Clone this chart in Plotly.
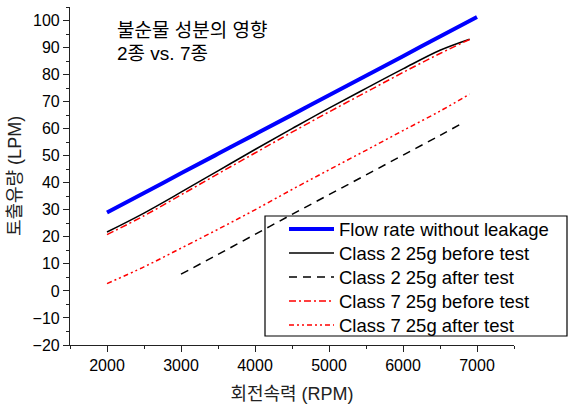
import plotly.graph_objects as go

# ---- data ----
rpm_full = [2000, 2500, 3000, 3500, 4000, 4500, 5000, 5500, 6000, 6500, 7000]
flow_ideal = [29.0, 36.2, 43.5, 50.7, 57.9, 65.1, 72.4, 79.6, 86.8, 94.1, 101.3]

rpm_c2_before = [2000, 2500, 3000, 3500, 4000, 4500, 5000, 5500, 6000, 6500, 6900]
c2_before = [21.8, 28.8, 36.5, 44.4, 52.3, 60.0, 67.6, 74.9, 82.1, 89.0, 93.1]

rpm_c2_after = [3000, 3500, 4000, 4500, 5000, 5500, 6000, 6500, 6800]
c2_after = [6.2, 13.5, 20.9, 28.3, 35.6, 42.9, 50.2, 57.5, 62.0]

rpm_c7_before = [2000, 2500, 3000, 3500, 4000, 4500, 5000, 5500, 6000, 6500, 6900]
c7_before = [20.8, 27.8, 35.5, 43.3, 51.0, 58.7, 66.2, 73.5, 80.8, 87.8, 93.0]

rpm_c7_after = [2000, 2500, 3000, 3500, 4000, 4500, 5000, 5500, 6000, 6500, 6900]
c7_after = [2.7, 8.9, 15.8, 22.8, 30.0, 37.5, 44.8, 52.0, 59.3, 66.5, 72.8]

names = ["Flow rate without leakage", "Class 2 25g before test", "Class 2 25g after test",
         "Class 7 25g before test", "Class 7 25g after test"]

x_ticks = [2000, 3000, 4000, 5000, 6000, 7000]
y_ticks = [-20, -10, 0, 10, 20, 30, 40, 50, 60, 70, 80, 90, 100]

annot_lines = ["불순물 성분의 영향", "2종 vs. 7종"]
x_title = "회전속력 (RPM)"
y_title = "토출유량 (LPM)"

FONT = "Liberation Sans, Arial, Noto Sans CJK KR, sans-serif"

W, H = 568, 409
L, R, T, B = 70, 54, 7, 64
PW, PH = W - L - R, H - T - B


def px2paper(px, py):
    return (px - L) / PW, (H - B - py) / PH


def px2cont(px, py):
    return px / W, 1 - py / H


fig = go.Figure()
series = [
    (rpm_full, flow_ideal, dict(color="#0000FF", width=4)),
    (rpm_c2_before, c2_before, dict(color="black", width=1.5)),
    (rpm_c2_after, c2_after, dict(color="black", width=1.5, dash="8px,6px")),
    (rpm_c7_before, c7_before, dict(color="#FF0000", width=1.5, dash="7px,3px,2px,3px")),
    (rpm_c7_after, c7_after, dict(color="#FF0000", width=1.5, dash="5px,3px,2px,3px,2px,3px")),
]
legend_keys = ["legend", "legend2", "legend3", "legend4", "legend5"]
for (xs, ys, line), nm, lk in zip(series, names, legend_keys):
    fig.add_trace(go.Scatter(x=xs, y=ys, mode="lines", line=line, name=nm,
                             legend=lk, line_shape="spline"))

row_y = [229.5, 253.5, 277.5, 301.5, 325.5]
legend_layouts = {}
for lk, ry in zip(legend_keys, row_y):
    lx, ly = px2cont(284, ry)
    legend_layouts[lk] = dict(x=lx, y=ly, xref="container", yref="container",
                              xanchor="left", yanchor="middle",
                              bgcolor="rgba(0,0,0,0)", borderwidth=0,
                              font=dict(family=FONT, size=18.5, color="black"),
                              itemwidth=45)

bx0, by0 = px2paper(265, 216)
bx1, by1 = px2paper(567, 336)

axis_common = dict(showgrid=False, zeroline=False, showline=True, linecolor="#222",
                   linewidth=1.2, ticks="outside", ticklen=6, tickwidth=1.2,
                   tickcolor="#222", mirror=False, automargin=False,
                   tickfont=dict(family=FONT, size=16, color="black"))

fig.update_layout(
    width=W, height=H,
    margin=dict(l=L, r=R, t=T, b=B, autoexpand=False),
    paper_bgcolor="white", plot_bgcolor="white",
    showlegend=True,
    xaxis=dict(range=[1500, 7500], tickvals=x_ticks,
               minor=dict(dtick=500, tick0=1500, ticks="outside", ticklen=3,
                          tickcolor="#222", tickwidth=1.2),
               title=dict(text=x_title, font=dict(family=FONT, size=18, color="#222"),
                          standoff=14),
               **axis_common),
    yaxis=dict(range=[-20, 105], tickvals=y_ticks,
               minor=dict(dtick=5, tick0=0, ticks="outside", ticklen=3,
                          tickcolor="#222", tickwidth=1.2),
               title=dict(text=y_title, font=dict(family=FONT, size=18, color="#222"),
                          standoff=6),
               **axis_common),
    shapes=[dict(type="rect", xref="paper", yref="paper", x0=bx0, x1=bx1, y0=by1, y1=by0,
                 line=dict(color="black", width=1.2), fillcolor="rgba(0,0,0,0)",
                 layer="above")],
    **legend_layouts,
)

for txt, py in zip(annot_lines, [30, 53]):
    ax, ay = px2paper(115, py)
    fig.add_annotation(x=ax, y=ay, xref="paper", yref="paper", text=txt, showarrow=False,
                       xanchor="left", yanchor="middle",
                       font=dict(family=FONT, size=19, color="black"))

fig.write_html(
    "out.html",
    config={"displayModeBar": False},
    post_script="document.body.style.margin='0px';"
                "document.documentElement.style.overflow='hidden';",
)
